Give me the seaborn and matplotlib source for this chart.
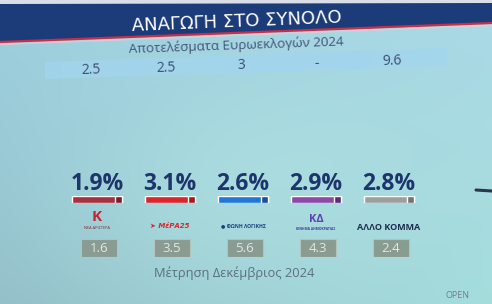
import numpy as np
import matplotlib
matplotlib.use("Agg")
import matplotlib.pyplot as plt
import matplotlib.transforms as mtransforms
from matplotlib.patches import Polygon
import seaborn as sns

# ---- data ----
parties = ["ΝΕΑ ΑΡΙΣΤΕΡΑ", "ΜέΡΑ25", "ΦΩΝΗ ΛΟΓΙΚΗΣ", "ΚΙΝΗΜΑ ΔΗΜΟΚΡΑΤΙΑΣ", "ΑΛΛΟ ΚΟΜΜΑ"]
poll_pct = [1.9, 3.1, 2.6, 2.9, 2.8]            # Μέτρηση Δεκέμβριος 2024
euro_2024 = ["2.5", "2.5", "3", "-", "9.6"]     # Αποτελέσματα Ευρωεκλογών 2024
prev_values = ["1.6", "3.5", "5.6", "4.3", "2.4"]
title = "ΑΝΑΓΩΓΗ ΣΤΟ ΣΥΝΟΛΟ"
subtitle = "Αποτελέσματα Ευρωεκλογών 2024"
footer = "Μέτρηση Δεκέμβριος 2024"

bar_colors = ["#a5303f", "#d8262c", "#1f78d6", "#8b4aa8", "#98a1a0"]
bar_dark = ["#74202c", "#a21a20", "#16509e", "#5b2a7a", "#6c7675"]

sns.set_theme(style="white")
plt.rcParams["font.family"] = ["Open Sans", "DejaVu Sans"]

W, H = 492, 304
fig = plt.figure(figsize=(W / 100, H / 100), dpi=100)

def rect(left, top, width, height):
    return [left / W, 1 - (top + height) / H, width / W, height / H]

# ---- background ----
bg = fig.add_axes([0, 0, 1, 1])
bg.set_xlim(0, W)
bg.set_ylim(H, 0)
bg.axis("off")

def hx(c):
    c = c.lstrip("#")
    return np.array([int(c[i:i + 2], 16) for i in (0, 2, 4)]) / 255.0

yy, xx = np.mgrid[0:H, 0:W]
u = xx / (W - 1)
v = yy / (H - 1)
tl, tr, bl, br = hx("#9dd0e0"), hx("#aad9e6"), hx("#93bfc8"), hx("#a4dcdc")
img = ((1 - u)[..., None] * (1 - v)[..., None] * tl + u[..., None] * (1 - v)[..., None] * tr
       + (1 - u)[..., None] * v[..., None] * bl + u[..., None] * v[..., None] * br)
glow = np.exp(-(((xx - 250) / 190.0) ** 2 + ((yy - 190) / 120.0) ** 2))
img = img * (1 - 0.45 * glow[..., None]) + hx("#b6e8e6") * 0.45 * glow[..., None]
bg.imshow(img, extent=[0, W, H, 0], aspect="auto", zorder=0)

# header banner (slightly tilted camera view)
bg.add_patch(Polygon([[0, 0], [W, 0], [W, 23], [0, 42]], closed=True,
                     fc="#1c3b79", ec="none", zorder=1))
bg.add_patch(Polygon([[0, 0], [W, 0], [W, 3], [0, 4]], closed=True,
                     fc="#d9dee8", ec="none", zorder=1))
bg.plot([0, W], [42, 23], color="#c43048", lw=1.6, zorder=2)
bg.plot([0, W], [44.5, 25.5], color="#e8c8d2", lw=1.2, alpha=0.7, zorder=2)
# light blue band for euro results
bg.add_patch(Polygon([[45, 62], [447, 48], [447, 66], [45, 79]], closed=True,
                     fc="#a2d5ee", ec="none", alpha=0.8, zorder=1))

bg.text(237, 22, title, color="white", fontsize=13, ha="center", va="center",
        rotation=2.3, family=["Liberation Sans Narrow", "DejaVu Sans"], zorder=3)
bg.text(236, 45, subtitle, color="#44557a", fontsize=9.6, ha="center", va="center",
        rotation=2.0, zorder=3)
bg.text(234, 273, footer, color="#5b6f82", fontsize=9.3, ha="center", va="center", zorder=3)
bg.text(457, 296, "OPEN", color="#6f7f8f", fontsize=6.5, ha="center", va="center", zorder=3)
bg.plot([476, 492], [190, 191], color="#2a3550", lw=2.2, zorder=3)

# ---- euro 2024 results row ----
ax_top = fig.add_axes(rect(53.4, 0, 376, H))
ax_top.set_xlim(-0.5, len(parties) - 0.5)
ax_top.set_ylim(H, 0)
ax_top.axis("off")
for i, val in enumerate(euro_2024):
    ax_top.text(i, 70 - i * 2.2, val, color="#3c4f70", fontsize=10, ha="center",
                va="center", rotation=2.0)

# ---- bars (equal length strips) with percentages ----
ax_bar = fig.add_axes(rect(60.5, 196, 365, 7))
sns.barplot(x=parties, y=[1] * len(parties), hue=parties, palette=bar_colors,
            width=0.68, legend=False, ax=ax_bar, saturation=1)
ax_bar.bar(np.arange(len(parties)) + 0.34 - 0.05, [1] * len(parties), width=0.1,
           color=bar_dark)
ax_bar.set_xlim(-0.5, len(parties) - 0.5)
ax_bar.set_ylim(0, 1)
ax_bar.axis("off")

tr_lbl = mtransforms.blended_transform_factory(ax_bar.transData, fig.transFigure)
for i, p in enumerate(poll_pct):
    ax_bar.text(i, 1 - 184 / H, f"{p:.1f}%", transform=tr_lbl, color="#1e356b",
                fontsize=16.5, fontweight="bold", ha="center", va="center")

# party "logos" as text
logo_y = 1 - 226 / H
ax_bar.text(0, 1 - 217 / H, "K", transform=tr_lbl, color="#c0283a", fontsize=11,
            fontweight="bold", ha="center", va="center")
ax_bar.text(0, 1 - 228 / H, "ΝΕΑ ΑΡΙΣΤΕΡΑ", transform=tr_lbl, color="#8a2030",
            fontsize=2.8, ha="center", va="center")
ax_bar.text(1, logo_y, "➤ ΜέΡΑ25", transform=tr_lbl, color="#d8262c", fontsize=5,
            fontweight="bold", style="italic", ha="center", va="center",
            family=["DejaVu Sans"])
ax_bar.text(2, logo_y, "● ΦΩΝΗ ΛΟΓΙΚΗΣ", transform=tr_lbl, color="#1d3f7c",
            fontsize=3.6, fontweight="bold", ha="center", va="center")
ax_bar.text(3, 1 - 219 / H, "ΚΔ", transform=tr_lbl, color="#5a44b0", fontsize=8,
            fontweight="bold", ha="center", va="center")
ax_bar.text(3, 1 - 229 / H, "ΚΙΝΗΜΑ ΔΗΜΟΚΡΑΤΙΑΣ", transform=tr_lbl, color="#3a3f9a",
            fontsize=2.4, fontweight="bold", ha="center", va="center")
ax_bar.text(4, 1 - 227 / H, "ΑΛΛΟ ΚΟΜΜΑ", transform=tr_lbl, color="#1e2e50",
            fontsize=6.5, fontweight="bold", ha="center", va="center")

# ---- previous measurement boxes ----
ax_box = fig.add_axes(rect(62.5, 239, 365, 18))
ax_box.bar(np.arange(len(parties)), [1] * len(parties), width=0.49,
           color="#8a9b92", edgecolor="#b4c2ba", linewidth=0.8)
ax_box.set_xlim(-0.5, len(parties) - 0.5)
ax_box.set_ylim(0, 1)
ax_box.axis("off")
for i, val in enumerate(prev_values):
    ax_box.text(i, 0.5, val, color="#dfe8e2", fontsize=9.5, ha="center", va="center")

fig.savefig("out.png", dpi=100)
